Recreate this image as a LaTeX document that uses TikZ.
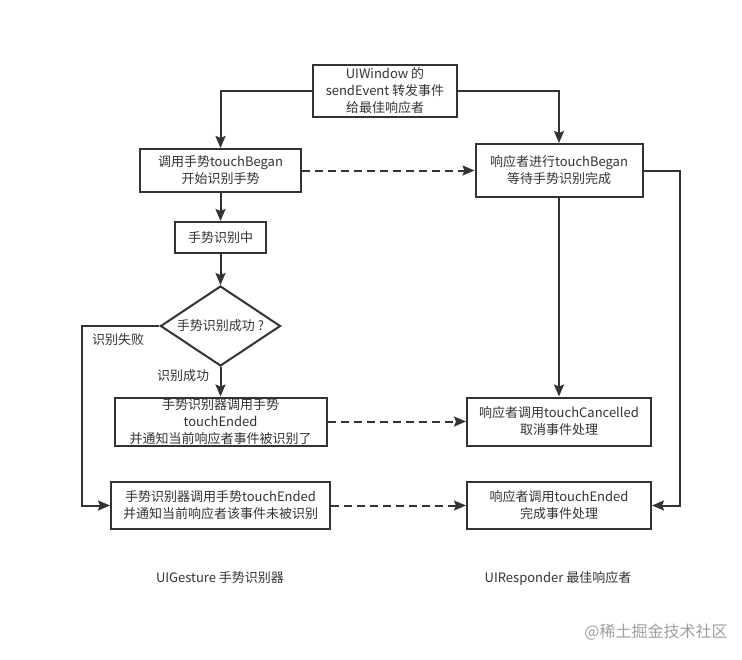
\documentclass[tikz,border=0pt]{standalone}
\usepackage{fontspec}
\setmainfont{Noto Sans CJK SC}
\usetikzlibrary{shapes.geometric,arrows.meta}
\definecolor{ink}{HTML}{333333}
\begin{document}
\begin{tikzpicture}[x=1pt,y=-1pt,>={Stealth[length=12pt,width=10pt,inset=2pt]},line width=2pt,draw=ink]
    \tikzstyle{box}=[rectangle,draw=ink,fill=white,align=center,inner sep=0pt,font=\fontsize{13}{17}\selectfont,text=ink]
    \tikzstyle{note}=[font=\fontsize{13}{17}\selectfont,text=ink]
    \useasboundingbox (0,0) rectangle (742,659);

    % gesture side
    \node[box,minimum width=144pt,minimum height=52pt] (W) at (385,91) {UIWindow 的\\sendEvent 转发事件\\给最佳响应者};
    \node[box,minimum width=161pt,minimum height=43pt] (G-begin) at (220.5,170.5) {调用手势touchBegan\\开始识别手势};
    \node[box,minimum width=91pt,minimum height=31pt] (G-mid) at (220.5,237.5) {手势识别中};
    \node[box,diamond,aspect=1.6,minimum width=120pt,minimum height=80pt] (D) at (220.5,326) {手势识别成功 ?};
    \node[box,minimum width=212pt,minimum height=48pt] (G-ok) at (220.5,421.5) {手势识别器调用手势\\touchEnded\\并通知当前响应者事件被识别了};
    \node[box,minimum width=219pt,minimum height=47pt] (G-fail) at (220.5,505.5) {手势识别器调用手势touchEnded\\并通知当前响应者该事件未被识别};

    % responder side
    \node[box,minimum width=167pt,minimum height=53pt] (R-begin) at (559,170.5) {响应者进行touchBegan\\等待手势识别完成};
    \node[box,minimum width=184pt,minimum height=48pt] (R-cancel) at (559,421.5) {响应者调用touchCancelled\\取消事件处理};
    \node[box,minimum width=184pt,minimum height=47pt] (R-end) at (559,505.5) {响应者调用touchEnded\\完成事件处理};

    \node[note] (fail-txt) at (118,340) {识别失败};
    \node[note] (ok-txt) at (183,376) {识别成功};
    \node[note] (cap-G) at (220,578) {UIGesture 手势识别器};
    \node[note] (cap-R) at (558,578) {UIResponder 最佳响应者};
    \node[font=\fontsize{16}{18}\selectfont,text=black!38] (mark) at (656,632) {@稀土掘金技术社区};

    \coordinate (fail-turn) at (82,326);
    \coordinate (resp-turn) at (680,170.5);

    \draw[->] (W) -| (G-begin);
    \draw[->] (W) -| (R-begin);
    \foreach \from/\to in {G-begin/G-mid,G-mid/D,D/G-ok,R-begin/R-cancel}
        \draw[->] (\from) -- (\to);

    \foreach \from/\to in {G-begin/R-begin,G-ok/R-cancel,G-fail/R-end}
        \draw[->,dash pattern=on 8pt off 5pt] (\from) -- (\to);

    \draw[->] (D) -- (fail-turn) |- (G-fail);
    \draw[->] (R-begin) -- (resp-turn) |- (R-end);
\end{tikzpicture}
\end{document}
